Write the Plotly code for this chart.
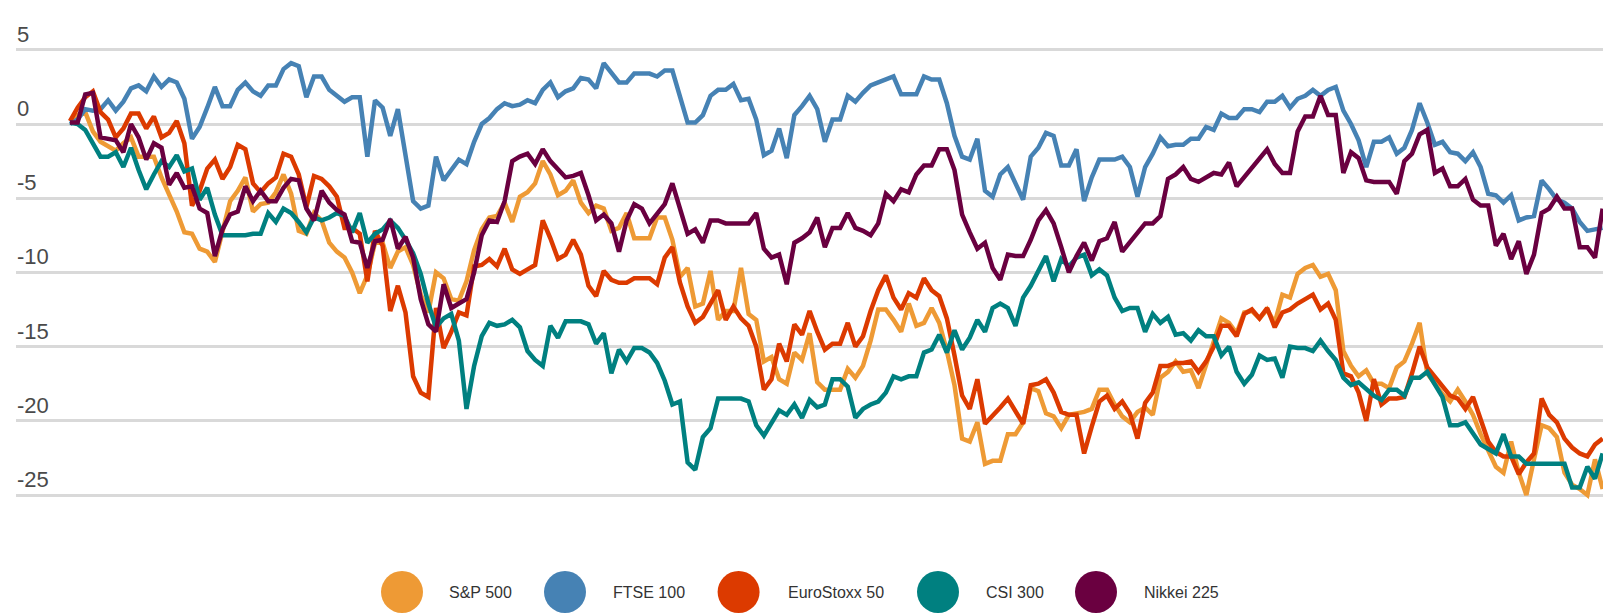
import plotly.graph_objects as go

# ---------------- data ----------------
series_names = ["S&P 500", "FTSE 100", "EuroStoxx 50", "CSI 300", "Nikkei 225"]
series_colors = ["#EE9A35", "#4682B4", "#DC3A00", "#008080", "#6A0040"]

sp500 = [
    0.2, 0.6, 0.8, -0.5, -1.2, -1.5, -1.8, -1.3, -0.9, -2.2, -2.2, -2.2, -3.6, -4.7, -5.9, -7.3, -7.4, -8.4, -8.6, -9.3,
    -7.2, -5.2, -4.5, -3.6, -5.9, -5.4,
    -5.3, -4.6, -3.4, -4.7, -7.2, -7.4, -6.0, -6.5, -8.0, -8.6, -9.0, -10.0, -11.4, -10.2, -8.0, -8.0, -9.7, -8.6, -8.3,
    -9.5, -11.5, -12.7, -10.0, -10.4, -11.8, -11.9, -10.6, -8.5, -7.1, -6.3, -6.2, -5.3,
    -6.6, -4.9, -4.6, -4.0, -2.5, -3.4, -4.8, -4.5, -3.8, -5.3, -6.0, -5.5, -5.7, -7.2, -7.0, -6.0, -7.7, -7.7, -7.7,
    -6.3, -6.3, -7.8, -10.3, -9.7, -12.3, -12.1, -9.9, -13.2, -12.6, -12.6, -9.7, -12.8, -13.2,
    -16.0, -15.7, -17.2, -17.5, -15.4, -15.9, -14.1, -17.4, -17.9, -17.9, -17.9, -16.5, -17.1, -16.3, -14.6, -12.5,
    -12.5, -13.2, -14.0, -12.1, -13.6, -13.4, -12.4, -13.4, -15.3, -17.6, -21.2, -21.4, -20.1, -22.9, -22.7, -22.7, -20.9,
    -20.9, -20.1, -17.8, -18.0, -19.5, -19.7, -20.5, -19.6, -19.5, -19.4, -19.2, -17.9, -17.9, -18.9, -19.7, -20.1,
    -19.4, -19.1, -19.6, -17.1, -16.7, -16.0, -16.7, -16.6, -17.8, -16.2, -14.8, -13.1, -13.4, -14.1, -12.7, -12.6, -13.1,
    -12.5, -13.4, -11.5, -11.7, -10.1, -9.7, -9.5, -10.3, -10.1, -11.2, -15.3, -16.3, -17.0, -16.6, -17.5, -17.5, -17.8,
    -16.4, -16.0, -14.8, -13.4,
    -16.8, -17.5, -18.2, -18.7, -17.9, -18.7, -19.6, -20.9, -22.0, -23.1, -23.5, -21.4, -23.5, -25.0, -22.6, -20.3,
    -20.5, -21.1, -23.5, -24.3, -24.6, -25.0, -22.6, -24.6,
]

ftse100 = [
    0.0, 0.3, 1.0, 0.9, 1.0, 1.6, 0.9, 1.5, 2.4, 2.6, 2.2, 3.2, 2.5, 3.0, 2.8, 1.7, -1.0, -0.2, 1.1, 2.5, 1.2, 1.2, 2.3,
    2.8, 2.2, 1.9,
    2.6, 2.6, 3.7, 4.1, 3.9, 1.8, 3.2, 3.2, 2.3, 1.9, 1.5, 1.8, 1.8, -2.2, 1.6, 1.1, -0.8, 1.0, -1.9, -5.2, -5.7, -5.5,
    -2.2, -3.8, -3.1, -2.4, -2.7, -1.2, 0.0, 0.4, 1.0, 1.4,
    1.2, 1.3, 1.6, 1.4, 2.3, 2.8, 1.8, 2.2, 2.4, 3.1, 3.0, 2.4, 4.1, 3.4, 2.8, 2.8, 3.4, 3.4, 3.4, 3.2, 3.6, 3.6, 1.9,
    0.1, 0.1, 0.6, 1.9, 2.3, 2.3, 2.7, 1.6, 1.7, 0.3,
    -2.1, -1.8, -0.3, -2.3, 0.6, 1.2, 1.9, 1.0, -1.2, 0.3, 0.3, 1.9, 1.5, 2.1, 2.6, 2.8, 3.0, 3.2, 2.0, 2.0, 2.0, 3.2,
    3.0, 3.0, 1.4, -0.8, -2.2, -2.4, -1.0, -4.5, -4.9, -3.4, -2.9,
    -4.0, -5.1, -2.2, -1.6, -0.6, -0.8, -2.8, -2.8, -1.7, -5.2, -3.6, -2.4, -2.4, -2.4, -2.2, -2.9, -4.9, -2.9, -2.0,
    -0.9, -1.5, -1.4, -1.4, -1.0, -1.0, -0.2, -0.4, 0.7, 0.4, 0.4, 1.0, 1.0, 0.8,
    1.5, 1.5, 1.9, 1.1, 1.7, 1.9, 2.3, 1.9, 2.3, 2.5, 0.9, 0.0, -1.1, -2.9, -1.2, -1.2, -0.9, -2.0, -1.6, -0.4, 1.4, 0.1,
    -1.4, -1.2, -1.9, -2.0, -2.5, -1.9, -2.9, -4.7, -4.8, -5.3,
    -4.8, -6.5, -6.3, -6.2, -3.8, -4.4, -5.1, -5.3, -5.7, -6.6, -7.2, -7.1, -7.0,
]

eurostoxx50 = [
    0.2, 1.1, 1.8, 2.2, 0.8, 0.3, -0.9, -0.3, 0.7, 0.7, -0.3, 0.5, -0.9, -0.6, 0.2, -1.3, -5.5, -4.5, -3.0, -2.4, -3.7,
    -2.9, -1.4, -1.7, -4.0, -4.6,
    -4.0, -3.6, -2.0, -2.2, -3.4, -5.6, -3.5, -3.7, -4.2, -4.9, -7.0, -7.0, -7.4, -10.6, -7.2, -8.2, -12.6, -10.9, -12.7,
    -17.0, -18.1, -18.4, -12.4, -15.1, -14.0, -12.7, -12.9, -9.6, -9.5, -9.1, -9.6, -8.4,
    -9.8, -10.1, -9.8, -9.5, -6.5, -7.7, -9.1, -8.8, -7.8, -8.8, -10.9, -11.6, -9.9, -10.5, -10.7, -10.7, -10.4, -10.4,
    -10.4, -10.8, -9.0, -8.3, -10.7, -12.3, -13.4, -13.0, -12.1, -11.2, -13.2, -12.3, -13.1, -13.6, -15.0,
    -17.9, -17.2, -14.8, -16.0, -13.5, -14.2, -12.6, -14.0, -15.2, -14.8, -14.8, -13.4, -15.0, -14.3, -12.6, -11.2,
    -10.2, -11.7, -12.5, -11.4, -11.7, -10.4, -11.2, -11.6, -13.1, -15.6, -18.3, -19.2, -17.2, -20.2, -19.7, -19.1, -18.5,
    -19.3, -20.2, -17.6, -17.5, -17.2, -18.1, -19.4, -19.6, -19.6, -22.2, -20.4, -18.7, -18.3, -19.2, -18.7, -19.5,
    -21.2, -18.8, -18.1, -16.3, -16.3, -16.1, -16.1, -16.0, -16.7, -16.0, -15.0, -13.6, -13.6, -14.3, -12.8, -12.5, -13.1,
    -12.4, -13.7, -12.7, -12.5, -12.1, -11.8, -11.5, -12.5, -12.1, -13.2, -16.8, -17.0, -18.1, -20.0, -17.2, -18.9,
    -18.5, -18.5, -18.4, -16.8, -15.0,
    -16.4, -17.0, -17.6, -18.3, -18.5, -19.2, -18.4, -19.9, -21.4, -22.1, -22.4, -22.4, -23.6, -22.8, -22.2, -18.5,
    -19.6, -20.1, -21.2, -21.8, -22.2, -22.4, -21.6, -21.2,
]

csi300 = [
    0.1, 0.0, -0.4, -1.3, -2.2, -2.2, -1.9, -2.9, -1.6, -3.1, -4.4, -3.4, -2.5, -2.9, -2.1, -3.2, -3.0, -5.1, -4.3, -6.1,
    -7.5, -7.5, -7.5, -7.5, -7.4, -7.4,
    -6.0, -6.6, -5.7, -6.0, -6.6, -7.3, -6.3, -6.5, -6.3, -6.0, -6.2, -7.3, -6.0, -8.0, -7.4, -7.1, -6.5, -7.0, -7.8,
    -8.7, -10.1, -12.1, -13.7, -13.1, -12.8, -14.6, -19.2, -16.3, -14.3, -13.4, -13.6, -13.5,
    -13.2, -13.7, -15.3, -15.9, -16.3, -13.6, -14.4, -13.3, -13.3, -13.3, -13.5, -14.8, -14.1, -16.8, -15.2, -16.0,
    -15.1, -15.1, -15.4, -16.1, -17.3, -18.9, -18.7, -22.8, -23.3, -21.1, -20.5, -18.5, -18.5, -18.5, -18.5, -18.7, -20.3,
    -21.0, -20.2, -19.3, -19.6, -18.9, -19.8, -18.6, -19.1, -18.9, -17.2, -17.2, -17.7, -19.8, -19.2, -18.9, -18.7,
    -18.1, -17.0, -17.2, -17.0, -17.0, -15.4, -15.2, -14.2, -15.4, -13.9, -15.2, -14.4, -13.2, -14.0, -12.4, -12.1, -12.4,
    -13.6, -11.7, -10.9, -9.9, -8.9, -10.6, -9.1, -9.6, -9.0, -8.8, -10.2, -9.8, -10.2, -11.7, -12.6, -12.4, -12.4,
    -14.0, -12.8, -13.4, -13.0, -14.2, -14.1, -14.6, -13.9, -14.3, -14.3, -15.6, -15.0, -16.7, -17.5, -16.9, -15.6,
    -15.9, -15.8, -17.1, -15.0, -15.1, -15.1, -15.3, -14.6, -15.3, -15.9, -17.1, -17.6, -17.4, -17.9, -18.3, -18.6,
    -17.9, -17.9, -18.3, -17.1, -17.1,
    -16.7, -17.6, -18.4, -20.3, -20.3, -20.1, -20.8, -21.6, -21.9, -22.2, -20.9, -22.4, -22.4, -22.9, -22.9, -22.9,
    -22.9, -22.9, -22.9, -24.5, -24.5, -23.1, -23.9, -22.2,
]

nikkei225 = [
    0.1, 0.1, 2.0, 2.1, -0.9, -1.0, -1.1, -1.9, 0.0, -0.9, -2.4, -1.3, -1.6, -4.1, -3.3, -4.3, -4.2, -5.7, -6.0, -8.9,
    -7.1, -6.1, -5.9, -4.2, -5.2, -4.5,
    -5.2, -5.2, -4.3, -3.7, -3.8, -5.7, -6.5, -4.5, -5.3, -5.8, -6.1, -7.9, -8.0, -9.7, -7.9, -7.8, -6.4, -8.4, -7.6,
    -9.0, -11.8, -13.5, -14.0, -10.8, -12.4, -12.1, -11.8, -10.0, -7.5, -6.5, -6.6, -5.2,
    -2.5, -2.2, -2.0, -2.7, -1.7, -2.5, -3.1, -3.6, -3.5, -3.3, -4.8, -6.5, -6.1, -6.7, -8.6, -6.5, -5.4, -5.7, -6.7,
    -6.1, -5.4, -4.0, -5.7, -7.4, -7.1, -8.0, -6.5, -6.5, -6.7, -6.7, -6.7, -6.7, -6.0,
    -8.4, -9.0, -8.8, -10.8, -8.0, -7.7, -7.3, -6.3, -8.3, -7.0, -7.0, -6.0, -7.0, -7.2, -7.5, -6.7, -4.7, -5.2, -4.4,
    -4.6, -3.4, -2.8, -2.8, -1.7, -1.7, -3.1, -6.1, -7.3, -8.4, -8.0, -9.7, -10.5, -8.8,
    -8.9, -8.9, -7.8, -6.5, -5.8, -6.7, -8.3, -10.0, -8.9, -8.0, -9.2, -7.9, -7.7, -6.6, -8.6, -8.0, -7.4, -6.7, -6.7,
    -6.2, -3.7, -3.4, -2.9, -3.7, -3.9, -3.6, -3.3, -3.4, -2.6, -4.2, -3.6, -3.0, -2.3,
    -1.7, -2.7, -3.3, -3.3, -0.5, 0.5, 0.5, 1.9, 0.6, 0.6, -3.3, -1.9, -2.3, -3.8, -3.9, -3.9, -3.9, -4.7, -2.5, -2.0,
    -0.7, -0.4, -3.3, -3.0, -4.2, -4.2, -3.7, -5.1, -5.5, -5.5, -8.2, -7.4,
    -9.1, -7.9, -10.1, -8.8, -6.0, -5.7, -4.9, -5.7, -5.7, -8.3, -8.3, -9.0, -5.7,
]

y_ticks = [5, 0, -5, -10, -15, -20, -25]
periods = list(range(len(ftse100)))

# ---------------- layout constants ----------------
W, H = 1603, 613
M_L, M_R, M_T, M_B = 16, 0, 30, 93
PLOT_W = W - M_L - M_R
PLOT_H = H - M_T - M_B
PX_PER_STEP = 7.625          # horizontal spacing of points
FIRST_PX = 70                # page x of first point
X0 = -(FIRST_PX - M_L) / PX_PER_STEP
X1 = X0 + PLOT_W / PX_PER_STEP
PX_PER_UNIT = 14.84
ZERO_PX = 124
Y1 = (ZERO_PX - M_T) / PX_PER_UNIT
Y0 = Y1 - PLOT_H / PX_PER_UNIT

FONT = "Liberation Sans, Arial, Helvetica, sans-serif"

fig = go.Figure()
all_series = [sp500, ftse100, eurostoxx50, csi300, nikkei225]
for name, color, vals in zip(series_names, series_colors, all_series):
    fig.add_trace(go.Scatter(
        x=periods, y=vals, name=name, mode="lines",
        line=dict(color=color, width=4.5), showlegend=False,
        hoverinfo="skip",
    ))

annotations = []
for v in y_ticks:
    annotations.append(dict(
        xref="paper", yref="y", x=0, y=v, xanchor="left", yanchor="bottom",
        text=str(v), showarrow=False, yshift=1, xshift=-1,
        font=dict(family=FONT, size=22, color="#4a4a4a"),
    ))

# custom legend with large round swatches
legend_circle_px = [402, 565, 738.6, 938, 1096]
legend_text_px = [449, 612.5, 787.5, 985.5, 1143.5]
legend_y_px = 592
shapes = []
for cx, tx, name, color in zip(legend_circle_px, legend_text_px, series_names, series_colors):
    shapes.append(dict(
        type="circle", xref="paper", yref="paper",
        xsizemode="pixel", ysizemode="pixel",
        xanchor=(cx - M_L) / PLOT_W, yanchor=(M_T + PLOT_H - legend_y_px) / PLOT_H,
        x0=-21, x1=21, y0=-21, y1=21,
        fillcolor=color, line=dict(width=0),
    ))
    annotations.append(dict(
        xref="paper", yref="paper", x=(tx - M_L) / PLOT_W,
        y=(M_T + PLOT_H - legend_y_px) / PLOT_H,
        xanchor="left", yanchor="middle", xshift=-2,
        text=name, showarrow=False,
        font=dict(family=FONT, size=16, color="#333333"),
    ))

fig.update_layout(
    width=W, height=H,
    margin=dict(l=M_L, r=M_R, t=M_T, b=M_B, pad=0),
    paper_bgcolor="white", plot_bgcolor="white",
    showlegend=False,
    xaxis=dict(visible=False, range=[X0, X1], fixedrange=True),
    yaxis=dict(
        range=[Y0, Y1], tickvals=y_ticks, showticklabels=False,
        showgrid=True, gridcolor="#d9d9d9", gridwidth=2.5,
        zeroline=False, showline=False, ticks="", fixedrange=True,
    ),
    annotations=annotations,
    shapes=shapes,
    font=dict(family=FONT),
)

fig.write_html(
    "out.html",
    config={"displayModeBar": False},
    post_script="document.body.style.margin='0px';document.body.style.overflow='hidden';",
)
